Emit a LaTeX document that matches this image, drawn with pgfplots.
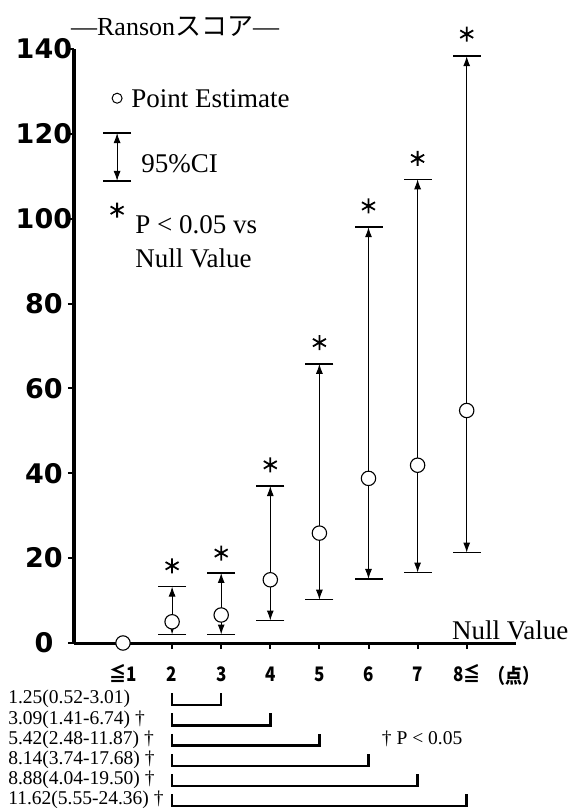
\documentclass[border=0pt]{standalone}
\usepackage{pgfplots}
\pgfplotsset{compat=1.18}
\usepackage{pgfplotstable}
\usepackage{fontspec}
\usetikzlibrary{arrows.meta}
\setmainfont{Liberation Serif}
\newfontfamily\cjk{Noto Sans CJK JP}
\newfontfamily\dvs{DejaVu Sans}

% category x, point estimate, upper and lower 95% CI
\pgfplotstableread{
x est up lo
1 5.0 13.3 2.0
2 6.6 16.5 2.0
3 14.9 37.0 5.3
4 25.9 65.8 10.2
5 38.8 98.0 15.1
6 41.9 109.3 16.6
7 54.8 138.3 21.3
}\citab
% legend sample of the CI glyph
\pgfplotstableread{
x est up lo
-0.12 114.5 120.2 108.9
}\cileg
% point estimates (incl. reference category)
\pgfplotstableread{
x y
0 0
1 5.0
2 6.6
3 14.9
4 25.9
5 38.8
6 41.9
7 54.8
}\ptstab
\pgfplotstableread{
x y
-0.12 128.4
}\ptleg
% significance asterisks
\pgfplotstableread{
x y
1 18.2
2 21.2
3 42.0
4 70.8
5 103.0
6 114.2
7 143.5
-0.12 102.0
}\asttab

\newcommand\rowtxt[3]{%
  \node[anchor=base west, font=\fontsize{19.5}{19.5}\selectfont, inner sep=0pt] at (axis cs:-2.34,#2) {#1};
  \draw[line width=2.5pt] (axis cs:1,#2+2.5) -- (axis cs:1,#2-0.3) -- (axis cs:#3,#2-0.3) -- (axis cs:#3,#2+2.5);
}
\newcommand\xl[1]{\scalebox{0.85}[1]{#1}}

\begin{document}
\begin{tikzpicture}
\begin{axis}[
  scale only axis, width=441.9pt, height=594pt,
  xmin=-1, xmax=8, ymin=0, ymax=140,
  axis x line=bottom, axis y line=left,
  axis line style={-, line width=3pt},
  x axis line style={line width=3pt},
  y axis line style={line width=3.5pt},
  xtick={0,...,7},
  xticklabels={\xl{≦1},\xl{2},\xl{3},\xl{4},\xl{5},\xl{6},\xl{7},\xl{8≦}},
  ytick={0,20,...,140},
  tick align=outside,
  major tick length=6pt,
  tick style={black, line width=2pt},
  clip=false,
  /pgf/number format/assume math mode=true,
  xticklabel style={font=\cjk\bfseries\fontsize{20}{20}\selectfont, anchor=base, yshift=-32pt},
  yticklabel style={font=\dvs\bfseries\fontsize{27}{27}\selectfont, anchor=center, xshift=-24pt},
]
% arrows from estimate to the CI limits
\addplot[line width=1pt, -{Latex[length=10pt,width=7pt]},
  quiver={u=0, v=\thisrow{up}-\thisrow{est}}] table[x=x, y=est] {\citab};
\addplot[line width=1pt, -{Latex[length=10pt,width=7pt]},
  quiver={u=0, v=\thisrow{lo}-\thisrow{est}}] table[x=x, y=est] {\citab};
\addplot[line width=1pt, -{Latex[length=10pt,width=7pt]},
  quiver={u=0, v=\thisrow{up}-\thisrow{est}}] table[x=x, y=est] {\cileg};
\addplot[line width=1pt, -{Latex[length=10pt,width=7pt]},
  quiver={u=0, v=\thisrow{lo}-\thisrow{est}}] table[x=x, y=est] {\cileg};
% caps
\addplot[only marks, mark=-, mark size=14pt, mark options={line width=1.5pt}] table[x=x, y=up] {\citab};
\addplot[only marks, mark=-, mark size=14pt, mark options={line width=1.5pt}] table[x=x, y=lo] {\citab};
\addplot[only marks, mark=-, mark size=14pt, mark options={line width=1.5pt}] table[x=x, y=up] {\cileg};
\addplot[only marks, mark=-, mark size=14pt, mark options={line width=1.5pt}] table[x=x, y=lo] {\cileg};
% point estimates
\addplot[only marks, mark=*, mark size=7.2pt, mark options={fill=white, draw=black, line width=1.1pt}] table {\ptstab};
\addplot[only marks, mark=*, mark size=5pt, mark options={fill=white, draw=black, line width=1pt}] table {\ptleg};
% asterisks
\addplot[only marks, mark=asterisk, mark size=7.5pt, mark options={line width=1.8pt}] table {\asttab};

% legend texts
\node[anchor=base west, font=\fontsize{27}{27}\selectfont] at (axis cs:0.10,126.1) {Point Estimate};
\node[anchor=base west, font=\fontsize{27}{27}\selectfont] at (axis cs:0.30,110.8) {95\%CI};
\node[anchor=base west, font=\fontsize{27}{27}\selectfont] at (axis cs:0.18,96.6) {P < 0.05 vs};
\node[anchor=base west, font=\fontsize{27}{27}\selectfont] at (axis cs:0.18,88.6) {Null Value};
% title
\node[anchor=base west, font=\fontsize{26}{26}\selectfont, inner sep=0pt] at (axis cs:-1.06,143.2) {—Ranson{\cjk スコア}—};
% null value label
\node[anchor=base west, font=\fontsize{27}{27}\selectfont, inner sep=0pt] at (axis cs:6.70,0.9) {Null Value};
% unit label
\node[anchor=base west, font=\cjk\bfseries\fontsize{20}{20}\selectfont, inner sep=0pt] at (axis cs:7.45,-9.5) {\xl{（点）}};

% comparison table
\rowtxt{1.25(0.52-3.01)}{-14.3}{2}
\rowtxt{3.09(1.41-6.74) †}{-19.1}{3}
\rowtxt{5.42(2.48-11.87) †}{-23.9}{4}
\rowtxt{8.14(3.74-17.68) †}{-28.7}{5}
\rowtxt{8.88(4.04-19.50) †}{-33.4}{6}
\rowtxt{11.62(5.55-24.36) †}{-38.1}{7}
\node[anchor=base west, font=\fontsize{19.5}{19.5}\selectfont, inner sep=0pt] at (axis cs:5.27,-23.9) {† P < 0.05};
\end{axis}
\pgfresetboundingbox
\path (-73.9pt,-168pt) rectangle (500.1pt,643pt);
\end{tikzpicture}
\end{document}
